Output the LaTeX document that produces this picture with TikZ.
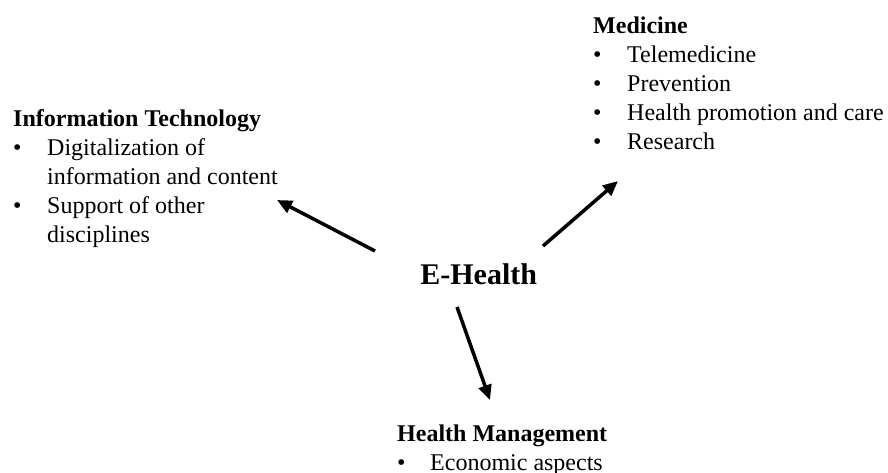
\documentclass[tikz,border=0pt]{standalone}
\usepackage{fontspec}
\setmainfont{Liberation Serif}
\usetikzlibrary{arrows.meta}
\begin{document}
\begin{tikzpicture}[x=1pt,y=-1pt,
  block/.style={anchor=base west,inner sep=0pt,font=\fontsize{24}{29}\selectfont},
  hub/.style={anchor=base,inner sep=0pt,font=\fontsize{30}{36}\selectfont\bfseries},
  link/.style={line width=3.5pt,-{Triangle[length=15pt,width=13pt]}}]
\useasboundingbox (0,0) rectangle (888,472);

% central topic
\node[hub] (eh) at (478.7,284) {E-Health};

% the three fields around it
\node[block] (med) at (593,33) {\begin{tabular}[t]{@{}p{34pt}@{}l@{}}
\multicolumn{2}{@{}l@{}}{\textbf{Medicine}}\\
\textbullet & Telemedicine\\
\textbullet & Prevention\\
\textbullet & Health promotion and care\\
\textbullet & Research
\end{tabular}};

\node[block] (it) at (13,126) {\begin{tabular}[t]{@{}p{34pt}@{}l@{}}
\multicolumn{2}{@{}l@{}}{\textbf{Information Technology}}\\
\textbullet & Digitalization of\\
 & information and content\\
\textbullet & Support of other\\
 & disciplines
\end{tabular}};

\node[block] (hm) at (397,441.7) {\begin{tabular}[t]{@{}p{33pt}@{}l@{}}
\multicolumn{2}{@{}l@{}}{\textbf{Health Management}}\\
\textbullet & Economic aspects
\end{tabular}};

% arrow end points
\coordinate (ehW) at (375,251);
\coordinate (itEnd) at (277,200);
\coordinate (ehE) at (543,246);
\coordinate (medEnd) at (618,181);
\coordinate (ehS) at (457,307);
\coordinate (hmEnd) at (490,400);

\draw[link] (ehW) -- (itEnd);
\draw[link] (ehE) -- (medEnd);
\draw[link] (ehS) -- (hmEnd);
\end{tikzpicture}
\end{document}
